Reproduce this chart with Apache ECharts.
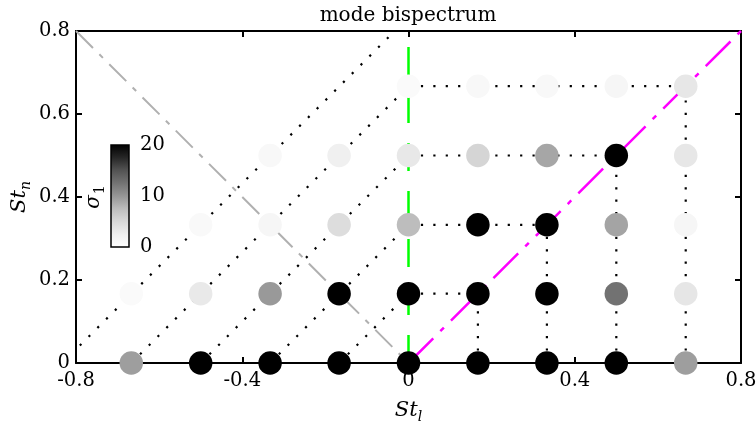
<!DOCTYPE html>
<html><head><meta charset="utf-8">
<script src="https://cdn.jsdelivr.net/npm/echarts@6/dist/echarts.min.js"></script>
<style>html,body{margin:0;padding:0;background:#fff}#c{width:756px;height:425px}</style>
</head><body><div id="c"></div>
<script>
// ---- data ----
const stlRow0 = [-0.667, -0.5, -0.333, -0.167, 0, 0.167, 0.333, 0.5, 0.667];
const sigmaRow0 = [9.5, 20, 20, 20, 20, 20, 20, 20, 9.5];
const stlRow1 = [-0.667, -0.5, -0.333, -0.167, 0, 0.167, 0.333, 0.5, 0.667];
const sigmaRow1 = [0.8, 3.3, 9.8, 20, 20, 20, 20, 12.6, 3.6];
const stlRow2 = [-0.5, -0.333, -0.167, 0, 0.167, 0.333, 0.5, 0.667];
const sigmaRow2 = [1.0, 1.5, 4.6, 7.5, 20, 20, 9.1, 1.5];
const stlRow3 = [-0.333, -0.167, 0, 0.167, 0.333, 0.5, 0.667];
const sigmaRow3 = [1.2, 2.5, 3.4, 5.4, 9.0, 20, 3.5];
const stlRow4 = [0, 0.167, 0.333, 0.5, 0.667];
const sigmaRow4 = [0.8, 1.1, 1.1, 1.5, 3.5];
const stnRows = [0, 0.167, 0.333, 0.5, 0.667];

const triadDiagonals = [
  [[-0.833, 0], [0, 0.833]],
  [[-0.667, 0], [0, 0.667]],
  [[-0.5, 0], [0, 0.5]],
  [[-0.333, 0], [0, 0.333]],
  [[-0.167, 0], [0, 0.167]]
];
const triadHorizontals = [
  [[0, 0.167], [0.167, 0.167]],
  [[0, 0.333], [0.333, 0.333]],
  [[0, 0.5], [0.5, 0.5]],
  [[0, 0.667], [0.667, 0.667]]
];
const triadVerticals = [
  [[0.167, 0], [0.167, 0.167]],
  [[0.333, 0], [0.333, 0.333]],
  [[0.5, 0], [0.5, 0.5]],
  [[0.667, 0], [0.667, 0.667]]
];
const greenLine = [[0, 0], [0, 0.8]];
const magentaLine = [[0, 0], [0.8, 0.8]];
const grayLine = [[-0.8, 0.8], [0, 0]];

const xTicks = [-0.8, -0.4, 0, 0.4, 0.8];
const yTicks = [0, 0.2, 0.4, 0.6, 0.8];
const cbarTicks = [0, 10, 20];
const sigmaMin = 0, sigmaMax = 20;
const greys = ['#ffffff', '#f0f0f0', '#d9d9d9', '#bdbdbd', '#969696', '#737373', '#525252', '#252525', '#000000'];

// ---- build ----
const FONT = 'DejaVu Serif';
const rowsX = [stlRow0, stlRow1, stlRow2, stlRow3, stlRow4];
const rowsS = [sigmaRow0, sigmaRow1, sigmaRow2, sigmaRow3, sigmaRow4];
const points = [];
rowsX.forEach((xs, r) => xs.forEach((x, k) => points.push([x, stnRows[r], rowsS[r][k]])));

const series = [];
const dotted = {color: '#000', width: 2.2, type: [2.2, 10.2], cap: 'butt'};
[...triadDiagonals, ...triadHorizontals, ...triadVerticals].forEach(seg => {
  series.push({type: 'line', data: seg, symbol: 'none', z: 2, silent: true, animation: false,
    lineStyle: dotted});
});
series.push({type: 'line', data: grayLine, symbol: 'none', z: 3, animation: false,
  lineStyle: {color: '#b0b0b0', width: 2, type: [24, 9, 5, 9]}});
series.push({type: 'line', data: greenLine, symbol: 'none', z: 3, animation: false,
  lineStyle: {color: '#00ff00', width: 2.5, type: [28, 20]}});
series.push({type: 'line', data: magentaLine, symbol: 'none', z: 3, animation: false,
  lineStyle: {color: '#ff00ff', width: 2.5, type: [35, 10, 5, 10]}});
const scatterIndex = series.length;
series.push({type: 'scatter', data: points, symbolSize: 23.5, z: 6, clip: false, animation: false,
  itemStyle: {opacity: 1}});

const axisCommon = {
  type: 'value', splitLine: {show: false},
  axisLine: {show: true, onZero: false, lineStyle: {color: '#000', width: 2}},
  axisTick: {show: true, inside: true, length: 6, lineStyle: {color: '#000', width: 2}}
};
const labelStyle = {color: '#000', fontFamily: FONT, fontSize: 19.5};

const chart = echarts.init(document.getElementById('c'), null, {renderer: 'canvas'});
const grid = {left: 76, right: 15, top: 31, bottom: 62, containLabel: false, outerBoundsMode: 'none'};
const cb = {x: 111, y: 145, w: 18, h: 102};
const gradStops = greys.map((c, i) => ({offset: 1 - i / (greys.length - 1), color: c}));

const graphic = [
  {type: 'rect', shape: {x: cb.x, y: cb.y, width: cb.w, height: cb.h}, z: 10,
    style: {fill: new echarts.graphic.LinearGradient(0, 0, 0, 1, gradStops), stroke: '#000', lineWidth: 1.5}},
  ...cbarTicks.map(v => ({type: 'text', z: 10, x: cb.x + cb.w + 11,
    y: cb.y + cb.h * (1 - (v - sigmaMin) / (sigmaMax - sigmaMin)),
    style: {text: String(v), fill: '#000', font: '19.5px "' + FONT + '"', align: 'left', verticalAlign: 'middle'}})),
  {type: 'text', z: 10, x: 94, y: 197, rotation: Math.PI / 2,
    style: {text: '{g|σ}{s|1}', align: 'center', verticalAlign: 'middle', fill: '#000',
      rich: {g: {fontFamily: FONT, fontStyle: 'italic', fontSize: 20},
             s: {fontFamily: FONT, fontSize: 14, padding: [12, 0, 0, 1]}}}}
];

chart.setOption({
  animation: false,
  title: {text: 'mode bispectrum', left: 403, textAlign: 'center', top: 1,
    textStyle: {fontFamily: FONT, fontWeight: 'normal', fontSize: 20, color: '#000'}},
  grid: grid,
  xAxis: [
    Object.assign({}, axisCommon, {position: 'bottom', min: xTicks[0], max: xTicks[xTicks.length - 1], interval: 0.4,
      axisLabel: Object.assign({margin: 8, showMinLabel: true, showMaxLabel: true}, labelStyle),
      name: '{i|St}{s|l}', nameLocation: 'middle', nameGap: 34,
      nameTextStyle: {rich: {i: {fontFamily: FONT, fontStyle: 'italic', fontSize: 21, color: '#000'},
        s: {fontFamily: FONT, fontStyle: 'italic', fontSize: 14, color: '#000', padding: [13, 0, 0, 0]}}}}),
    Object.assign({}, axisCommon, {position: 'top', min: xTicks[0], max: xTicks[xTicks.length - 1], interval: 0.4,
      axisLabel: {show: false}})
  ],
  yAxis: [
    Object.assign({}, axisCommon, {position: 'left', min: yTicks[0], max: yTicks[yTicks.length - 1], interval: 0.2,
      axisLabel: Object.assign({margin: 6, showMinLabel: true, showMaxLabel: true}, labelStyle),
      name: '{i|St}{s|n}', nameLocation: 'middle', nameGap: 43, nameRotate: 90, nameMoveOverlap: false,
      nameTextStyle: {rich: {i: {fontFamily: FONT, fontStyle: 'italic', fontSize: 21, color: '#000'},
        s: {fontFamily: FONT, fontStyle: 'italic', fontSize: 14, color: '#000', padding: [13, 0, 0, 0]}}}}),
    Object.assign({}, axisCommon, {position: 'right', min: yTicks[0], max: yTicks[yTicks.length - 1], interval: 0.2,
      axisLabel: {show: false}})
  ],
  visualMap: {type: 'continuous', show: false, seriesIndex: scatterIndex, dimension: 2,
    min: sigmaMin, max: sigmaMax, inRange: {color: greys}},
  graphic: graphic,
  series: series
});
</script></body></html>
